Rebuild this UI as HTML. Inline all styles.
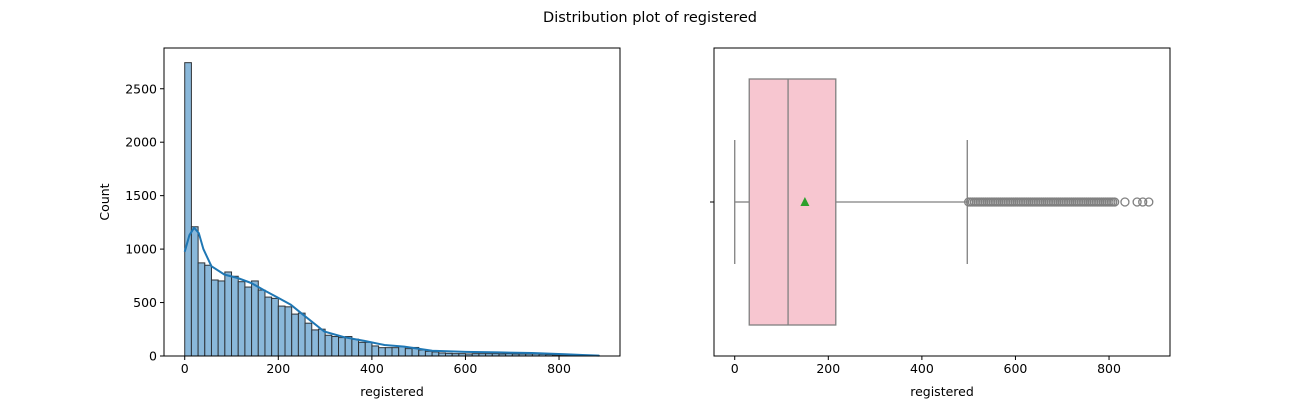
<!DOCTYPE html>
<html><head><meta charset="utf-8"><style>
body{margin:0;background:#fff;}
svg{font-family:"DejaVu Sans","Liberation Sans",sans-serif;}
</style></head><body>
<svg id="c" width="1300" height="400" viewBox="0 0 1300 400">
<text x="650" y="22" text-anchor="middle" font-size="14.5" fill="#000">Distribution plot of registered</text>
<g id="left"></g>
<g id="right"></g>
</svg>
<script>
const histCounts=[2744,1209,871,849,711,702,786,746,695,645,702,617,551,539,467,460,392,401,307,244,251,194,182,172,182,157,128,128,94,78,78,78,88,69,80,56,44,38,28,25,22,22,19,22,22,22,22,19,22,19,19,19,19,16,13,10,10,6,6,5,3,3];
const kdeX=[0,10,20,30,40,57,85,113,142,170,198,227,256,298,342,384,427,469,529,600,671,742,813,850,886];
const kdeY=[975,1130,1200,1150,1000,840,761,730,683,614,548,479,376,229,175,141,103,88,50,38,34,28,16,9,4];
const xTicks=[0,200,400,600,800];
const yTicks=[0,500,1000,1500,2000,2500];
const boxStats={min:0,q1:31,median:114,q3:216,max:497,mean:150};
const outliers=[500,504,508,512,516,520,524,528,532,536,540,544,548,552,556,560,564,568,572,576,580,584,588,592,596,600,604,608,612,616,620,624,628,632,636,640,644,648,652,656,660,664,668,672,676,680,684,688,692,696,700,704,708,712,716,720,724,728,732,736,740,744,748,752,756,760,764,768,772,776,780,784,788,792,796,800,804,808,812,834,860,872,885];
const dataMax=886, binW=dataMax/histCounts.length;
const NS="http://www.w3.org/2000/svg";
function mk(p,t,a){const e=document.createElementNS(NS,t);for(const k in a)e.setAttribute(k,a[k]);p.appendChild(e);return e;}
const lo=-dataMax*0.05, hi=dataMax*1.05;
function xs(x0){return v=>x0+(v-lo)/(hi-lo)*456;}
const axTop=48,bot=356;
const yMax=2744*1.05;
const ys=v=>bot-v/yMax*(bot-axTop);
// left
const L=document.getElementById('left');const xl=xs(164);
histCounts.forEach((c,i)=>{const r=mk(L,'rect',{x:xl(i*binW),y:ys(c),width:xl((i+1)*binW)-xl(i*binW),height:bot-ys(c),fill:'#8ab8da',stroke:'#2e3338','stroke-width':1});

});
const kp=mk(L,'path',{d:kdeX.map((v,i)=>(i?'L':'M')+xl(v).toFixed(1)+','+ys(kdeY[i]).toFixed(1)).join(''),fill:'none',stroke:'#1f77b4','stroke-width':2,'stroke-linejoin':'round'});


const f1=mk(L,'rect',{x:164,y:axTop,width:456,height:bot-axTop,fill:'none',stroke:'#000','stroke-width':1});


xTicks.forEach(t=>{mk(L,'line',{x1:xl(t),x2:xl(t),y1:bot,y2:bot+4,stroke:'#000'});
const tx=mk(L,'text',{x:xl(t),y:bot+17,'text-anchor':'middle','font-size':12.5});tx.textContent=t;

});
yTicks.forEach(t=>{mk(L,'line',{x1:160,x2:164,y1:ys(t),y2:ys(t),stroke:'#000'});
const tx=mk(L,'text',{x:157,y:ys(t)+4.5,'text-anchor':'end','font-size':12.5});tx.textContent=t;

});
let a=mk(L,'text',{x:392,y:396,'text-anchor':'middle','font-size':12.5});a.textContent='registered';


a=mk(L,'text',{x:109,y:202,'text-anchor':'middle','font-size':12.5,transform:'rotate(-90 109 202)'});a.textContent='Count';


// right
const R=document.getElementById('right');const xr=xs(714);const cy=202;
mk(R,'line',{x1:xr(boxStats.min),x2:xr(boxStats.q1),y1:cy,y2:cy,stroke:'#808080','stroke-width':1.3});
mk(R,'line',{x1:xr(boxStats.q3),x2:xr(boxStats.max),y1:cy,y2:cy,stroke:'#808080','stroke-width':1.3});
mk(R,'line',{x1:xr(boxStats.min),x2:xr(boxStats.min),y1:140,y2:264,stroke:'#808080','stroke-width':1.3});
mk(R,'line',{x1:xr(boxStats.max),x2:xr(boxStats.max),y1:140,y2:264,stroke:'#808080','stroke-width':1.3});
const bx=mk(R,'rect',{x:xr(boxStats.q1),y:79,width:xr(boxStats.q3)-xr(boxStats.q1),height:246,fill:'#f7c6d0',stroke:'#808080','stroke-width':1.3});


mk(R,'line',{x1:xr(boxStats.median),x2:xr(boxStats.median),y1:79,y2:325,stroke:'#808080','stroke-width':1.3});
const mx=xr(boxStats.mean);
const mm=mk(R,'polygon',{points:`${mx},${cy-5} ${mx-4.5},${cy+4} ${mx+4.5},${cy+4}`,fill:'#2ca02c'});


outliers.forEach(v=>{const c=mk(R,'circle',{cx:xr(v),cy:cy,r:4,fill:'none',stroke:'#808080','stroke-width':1.3});

});
const f2=mk(R,'rect',{x:714,y:axTop,width:456,height:bot-axTop,fill:'none',stroke:'#000','stroke-width':1});


mk(R,'line',{x1:710,x2:714,y1:cy,y2:cy,stroke:'#000'});
xTicks.forEach(t=>{mk(R,'line',{x1:xr(t),x2:xr(t),y1:bot,y2:bot+4,stroke:'#000'});
const tx=mk(R,'text',{x:xr(t),y:bot+17,'text-anchor':'middle','font-size':12.5});tx.textContent=t;

});
a=mk(R,'text',{x:942,y:396,'text-anchor':'middle','font-size':12.5});a.textContent='registered';


</script>
</body></html>
